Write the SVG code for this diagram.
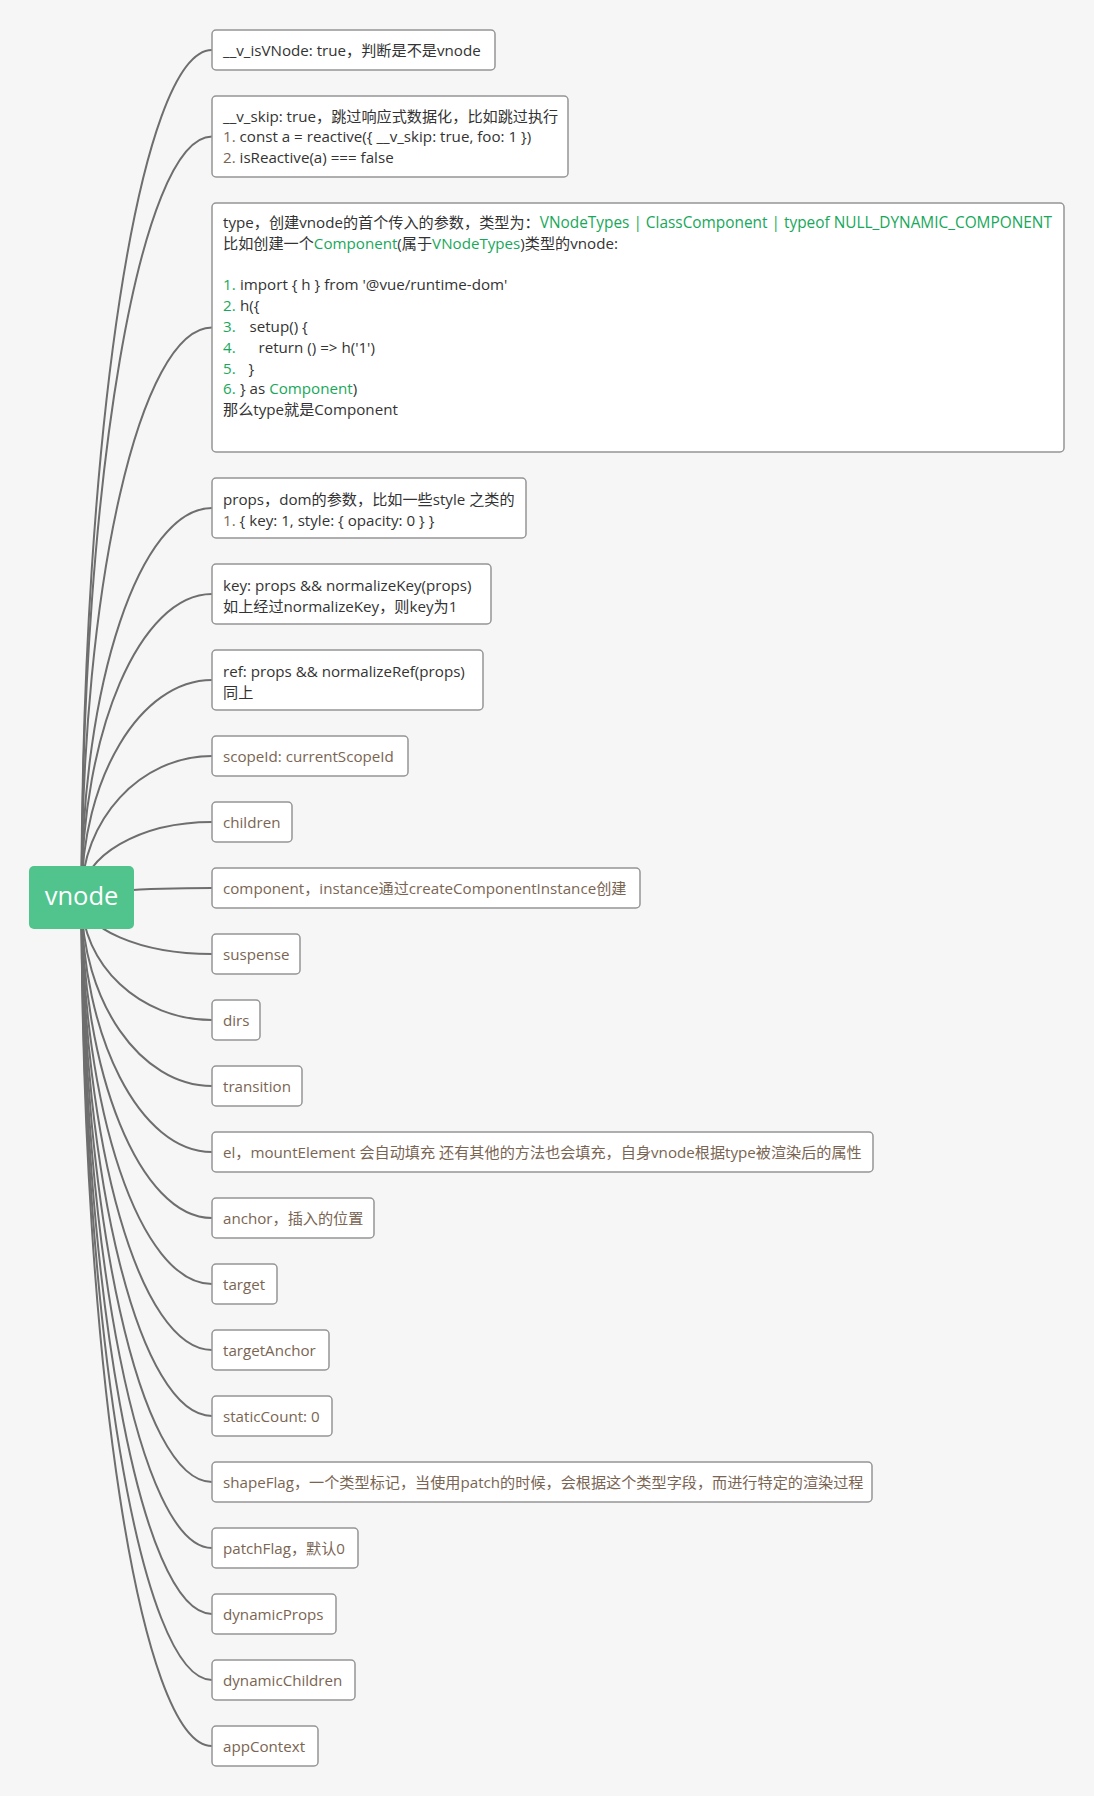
<svg xmlns="http://www.w3.org/2000/svg" width="1094" height="1796" viewBox="0 0 1094 1796">
<style>
.box{fill:#ffffff;stroke:#959595;stroke-width:1.5}
.t{font-family:"Open Sans","Noto Sans CJK SC",sans-serif;font-size:15.15px;fill:#333333}
.b{fill:#7a6553}
.g{fill:#17a85a}
.w{font-size:15.4px}
.c path{fill:none;stroke:#6e6e6e;stroke-width:2}
</style>
<rect x="0" y="0" width="1094" height="1796" fill="#f6f6f6"/>
<g id="connectors" class="c">
<path d="M81.5 897.5 C81.5 431.4 140.2 50 212 50"/>
<path d="M81.5 897.5 C81.5 478.9 140.2 136.5 212 136.5"/>
<path d="M81.5 897.5 C81.5 584 140.2 327.5 212 327.5"/>
<path d="M81.5 897.5 C81.5 683.3 140.2 508 212 508"/>
<path d="M81.5 897.5 C81.5 730.6 140.2 594 212 594"/>
<path d="M81.5 897.5 C81.5 777.9 140.2 680 212 680"/>
<path d="M81.5 897.5 C81.5 819.7 140.2 756 212 756"/>
<path d="M81.5 897.5 C81.5 856 140.2 822 212 822"/>
<path d="M81.5 897.5 C81.5 892.3 140.2 888 212 888"/>
<path d="M81.5 897.5 C81.5 928.6 140.2 954 212 954"/>
<path d="M81.5 897.5 C81.5 964.9 140.2 1020 212 1020"/>
<path d="M81.5 897.5 C81.5 1001.2 140.2 1086 212 1086"/>
<path d="M81.5 897.5 C81.5 1037.5 140.2 1152 212 1152"/>
<path d="M81.5 897.5 C81.5 1073.8 140.2 1218 212 1218"/>
<path d="M81.5 897.5 C81.5 1110.1 140.2 1284 212 1284"/>
<path d="M81.5 897.5 C81.5 1146.4 140.2 1350 212 1350"/>
<path d="M81.5 897.5 C81.5 1182.7 140.2 1416 212 1416"/>
<path d="M81.5 897.5 C81.5 1219 140.2 1482 212 1482"/>
<path d="M81.5 897.5 C81.5 1255.3 140.2 1548 212 1548"/>
<path d="M81.5 897.5 C81.5 1291.6 140.2 1614 212 1614"/>
<path d="M81.5 897.5 C81.5 1327.9 140.2 1680 212 1680"/>
<path d="M81.5 897.5 C81.5 1364.2 140.2 1746 212 1746"/>
</g>
<g id="root">
<rect x="29" y="866" width="105" height="63" rx="5" fill="#50c48c"/>
<text x="81.5" y="905" text-anchor="middle" style="font-family:'Open Sans','Noto Sans CJK SC',sans-serif;font-size:25.5px;fill:#ffffff">vnode</text>
</g>
<g id="n1">
<rect class="box" x="212" y="30" width="283" height="40" rx="4"/>
<text class="t" x="223" y="55.5">__v_isVNode: true，判断是不是vnode</text>
</g>
<g id="n2">
<rect class="box" x="212" y="96" width="356" height="81" rx="4"/>
<text class="t" x="223" y="121.5">__v_skip: true，跳过响应式数据化，比如跳过执行</text>
<text class="t" x="223" y="142"><tspan class="b">1.</tspan> const a = reactive({ __v_skip: true, foo: 1 })</text>
<text class="t" x="223" y="162.5"><tspan class="b">2.</tspan> isReactive(a) === false</text>
</g>
<g id="n3">
<rect class="box" x="212" y="203" width="852" height="249" rx="4"/>
<text class="t" x="223" y="228">type，创建vnode的首个传入的参数，类型为：<tspan class="g w">VNodeTypes | ClassComponent | typeof NULL_DYNAMIC_COMPONENT</tspan></text>
<text class="t" x="223" y="248.8">比如创建一个<tspan class="g">Component</tspan>(属于<tspan class="g">VNodeTypes</tspan>)类型的vnode:</text>
<text class="t" x="223" y="290.4"><tspan class="g">1.</tspan><tspan x="240">import { h } from '@vue/runtime-dom'</tspan></text>
<text class="t" x="223" y="311.2"><tspan class="g">2.</tspan><tspan x="240">h({</tspan></text>
<text class="t" x="223" y="332"><tspan class="g">3.</tspan><tspan x="249.5">setup() {</tspan></text>
<text class="t" x="223" y="352.8"><tspan class="g">4.</tspan><tspan x="258.5">return () =&gt; h('1')</tspan></text>
<text class="t" x="223" y="373.6"><tspan class="g">5.</tspan><tspan x="248.5">}</tspan></text>
<text class="t" x="223" y="394.4"><tspan class="g">6.</tspan><tspan x="240">} as </tspan><tspan class="g">Component</tspan>)</text>
<text class="t" x="223" y="415.2">那么type就是Component</text>
</g>
<g id="n4">
<rect class="box" x="212" y="478" width="314" height="60" rx="4"/>
<text class="t" x="223" y="505">props，dom的参数，比如一些style 之类的</text>
<text class="t" x="223" y="525.5"><tspan class="b">1.</tspan> { key: 1, style: { opacity: 0 } }</text>
</g>
<g id="n5">
<rect class="box" x="212" y="564" width="279" height="60" rx="4"/>
<text class="t" x="223" y="591">key: props &amp;&amp; normalizeKey(props)</text>
<text class="t" x="223" y="611.5">如上经过normalizeKey，则key为1</text>
</g>
<g id="n6">
<rect class="box" x="212" y="650" width="271" height="60" rx="4"/>
<text class="t" x="223" y="677">ref: props &amp;&amp; normalizeRef(props)</text>
<text class="t" x="223" y="697.5">同上</text>
</g>
<g id="n7">
<rect class="box" x="212" y="736" width="196" height="40" rx="4"/>
<text class="t b" x="223" y="761.5">scopeId: currentScopeId</text>
</g>
<g id="n8">
<rect class="box" x="212" y="802" width="80" height="40" rx="4"/>
<text class="t b" x="223" y="827.5">children</text>
</g>
<g id="n9">
<rect class="box" x="212" y="868" width="428" height="40" rx="4"/>
<text class="t b" x="223" y="893.5">component，instance通过createComponentInstance创建</text>
</g>
<g id="n10">
<rect class="box" x="212" y="934" width="88" height="40" rx="4"/>
<text class="t b" x="223" y="959.5">suspense</text>
</g>
<g id="n11">
<rect class="box" x="212" y="1000" width="48" height="40" rx="4"/>
<text class="t b" x="223" y="1025.5">dirs</text>
</g>
<g id="n12">
<rect class="box" x="212" y="1066" width="90" height="40" rx="4"/>
<text class="t b" x="223" y="1091.5">transition</text>
</g>
<g id="n13">
<rect class="box" x="212" y="1132" width="661" height="40" rx="4"/>
<text class="t b" x="223" y="1157.5">el，mountElement 会自动填充 还有其他的方法也会填充，自身vnode根据type被渲染后的属性</text>
</g>
<g id="n14">
<rect class="box" x="212" y="1198" width="162" height="40" rx="4"/>
<text class="t b" x="223" y="1223.5">anchor，插入的位置</text>
</g>
<g id="n15">
<rect class="box" x="212" y="1264" width="65" height="40" rx="4"/>
<text class="t b" x="223" y="1289.5">target</text>
</g>
<g id="n16">
<rect class="box" x="212" y="1330" width="117" height="40" rx="4"/>
<text class="t b" x="223" y="1355.5">targetAnchor</text>
</g>
<g id="n17">
<rect class="box" x="212" y="1396" width="120" height="40" rx="4"/>
<text class="t b" x="223" y="1421.5">staticCount: 0</text>
</g>
<g id="n18">
<rect class="box" x="212" y="1462" width="660" height="40" rx="4"/>
<text class="t b" x="223" y="1487.5">shapeFlag，一个类型标记，当使用patch的时候，会根据这个类型字段，而进行特定的渲染过程</text>
</g>
<g id="n19">
<rect class="box" x="212" y="1528" width="146" height="40" rx="4"/>
<text class="t b" x="223" y="1553.5">patchFlag，默认0</text>
</g>
<g id="n20">
<rect class="box" x="212" y="1594" width="124" height="40" rx="4"/>
<text class="t b" x="223" y="1619.5">dynamicProps</text>
</g>
<g id="n21">
<rect class="box" x="212" y="1660" width="143" height="40" rx="4"/>
<text class="t b" x="223" y="1685.5">dynamicChildren</text>
</g>
<g id="n22">
<rect class="box" x="212" y="1726" width="106" height="40" rx="4"/>
<text class="t b" x="223" y="1751.5">appContext</text>
</g>
</svg>
